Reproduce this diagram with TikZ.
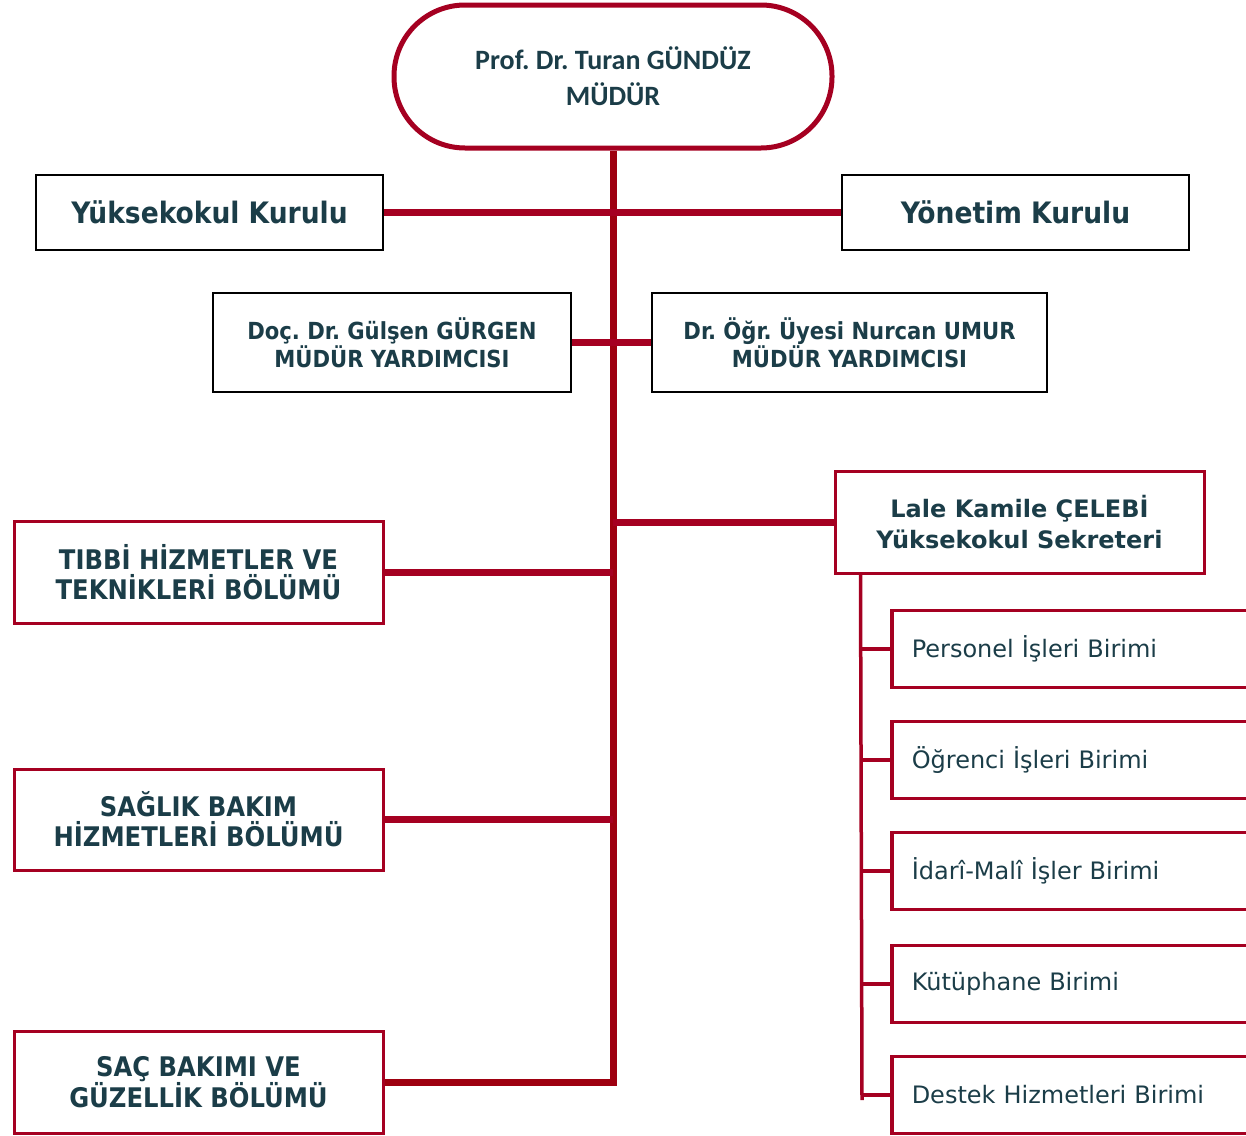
\documentclass[tikz,border=0pt]{standalone}
\usepackage{fontspec}
\setmainfont{DejaVu Sans}
\newfontfamily\condf{DejaVu Sans Condensed}
\newfontfamily\calib{Carlito}
\frenchspacing
\definecolor{dred}{HTML}{A50021}
\definecolor{sred}{HTML}{9E0010}
\definecolor{txt}{HTML}{1B3D48}
\tikzset{
  blackbox/.style={draw=black, line width=2pt, fill=white, inner sep=0pt, align=center, text=txt},
  redbox/.style={draw=dred, line width=3pt, fill=white, inner sep=0pt, align=center, text=txt},
  unitbox/.style={draw=dred, line width=3.5pt, fill=white, anchor=west, minimum width=420pt, minimum height=77pt,
     inner xsep=20pt, inner ysep=0pt, text width=380pt, align=left, text=txt,
     font=\fontsize{24}{28}\selectfont},
  link/.style={draw=dred, line width=7pt},
  spine/.style={draw=sred, line width=7pt},
  thinlink/.style={draw=dred, line width=3.5pt},
}
\begin{document}
\begin{tikzpicture}[x=1pt,y=-1pt]
\useasboundingbox (0,0) rectangle (1246,1135);
\clip (0,0) rectangle (1246,1135);
% top
\node[draw=dred, line width=5pt, fill=white, rounded corners=71pt, minimum width=438pt, minimum height=143pt,
  align=center, text=txt, font=\calib\bfseries\fontsize{28}{36}\selectfont] (top) at (613,76.5)
  {\frenchspacing Prof. Dr. Turan GÜNDÜZ\\MÜDÜR};
% boards
\node[blackbox, minimum width=347pt, minimum height=75pt, font=\condf\bfseries\fontsize{29.5}{32}\selectfont] (yk) at (209.5,212.5) {Yüksekokul Kurulu};
\node[blackbox, minimum width=347pt, minimum height=75pt, font=\condf\bfseries\fontsize{29.5}{32}\selectfont] (yn) at (1015.5,212.5) {Yönetim Kurulu};
% deputies
\node[blackbox, minimum width=358pt, minimum height=99pt, font=\condf\bfseries\fontsize{23.5}{28}\selectfont] (doc) at (392,342.5) {\frenchspacing Doç. Dr. Gülşen GÜRGEN\\MÜDÜR YARDIMCISI};
\node[blackbox, minimum width=395pt, minimum height=99pt, font=\condf\bfseries\fontsize{23.5}{28}\selectfont] (dr) at (849.5,342.5) {\frenchspacing Dr. Öğr. Üyesi Nurcan UMUR\\MÜDÜR YARDIMCISI};
% secretary
\node[redbox, minimum width=369pt, minimum height=102pt, font=\bfseries\fontsize{24}{31}\selectfont] (lale) at (1019.5,522) {Lale Kamile ÇELEBİ\\Yüksekokul Sekreteri};
% departments
\node[redbox, minimum width=369pt, minimum height=102pt, font=\condf\bfseries\fontsize{27}{30}\selectfont] (tibbi) at (198.5,572) {TIBBİ HİZMETLER VE\\TEKNİKLERİ BÖLÜMÜ};
\node[redbox, minimum width=369pt, minimum height=101pt, font=\condf\bfseries\fontsize{27}{30}\selectfont] (saglik) at (198.5,819.5) {SAĞLIK BAKIM\\HİZMETLERİ BÖLÜMÜ};
\node[redbox, minimum width=369pt, minimum height=102pt, font=\condf\bfseries\fontsize{27}{30}\selectfont] (sac) at (198.5,1082) {SAÇ BAKIMI VE\\GÜZELLİK BÖLÜMÜ};
% units
\node[unitbox] (u1) at (890,649) {Personel İşleri Birimi};
\node[unitbox] (u2) at (890,760) {Öğrenci İşleri Birimi};
\node[unitbox] (u3) at (890,871) {İdarî-Malî İşler Birimi};
\node[unitbox] (u4) at (890,984) {Kütüphane Birimi};
\node[unitbox] (u5) at (890,1095) {Destek Hizmetleri Birimi};
% connectors
\draw[spine] (sac.east) -| (top.south);
\draw[link] (yk.east) -- (yn.west);
\draw[link] (doc.east) -- (dr.west);
\draw[link] (tibbi.east) -- (tibbi.east -| top.south);
\draw[link] (saglik.east) -- (saglik.east -| top.south);
\draw[link] (lale.west -| top.south) -- (lale.west);
\coordinate (ss) at ([xshift=27pt]lale.south west);
\coordinate (se) at (862,1100);
\draw[thinlink] (ss) -- (se);
\foreach \u in {u1,u2,u3,u4,u5} \draw[thinlink] (\u.west -| se) -- (\u.west);
\end{tikzpicture}
\end{document}
